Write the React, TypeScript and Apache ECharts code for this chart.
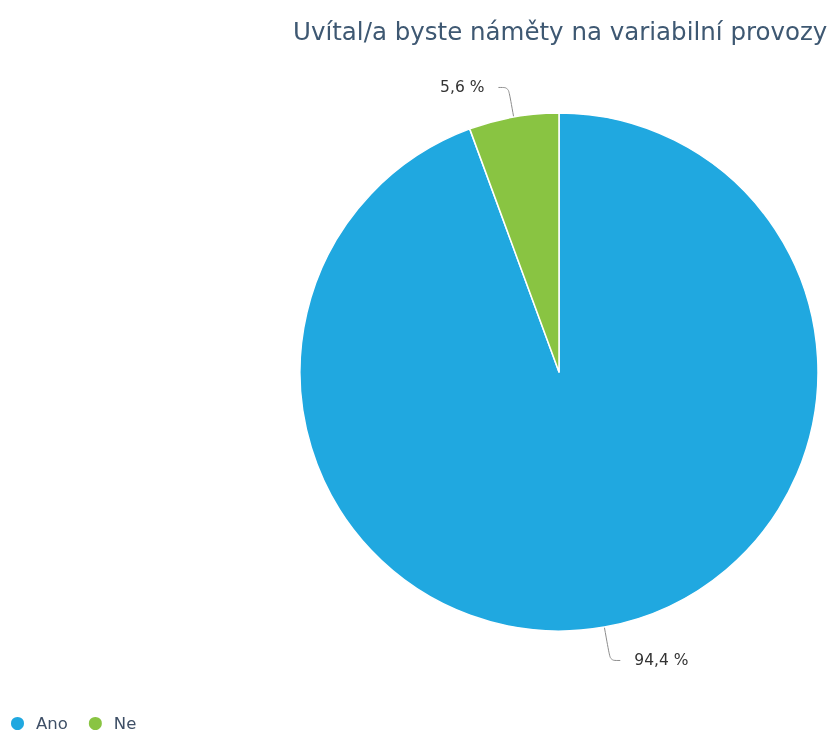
import React, { useEffect, useRef } from "react";
import * as echarts from "echarts";

const titleText = "Uvítal/a byste náměty na variabilní provozy";
const categories = ["Ano", "Ne"];
const values = [94.4, 5.6];
const colors = ["#20a8e0", "#89c442"];
// leader-line first segment per slice
const leaderLengths = [34, 30];

const fmt = (v: number) => v.toFixed(1).replace(".", ",") + " %";

export default function App() {
  const ref = useRef<HTMLDivElement>(null);

  useEffect(() => {
    if (!ref.current) return;
    const chart = echarts.init(ref.current, null, { renderer: "svg" });
    chart.setOption({
      animation: false,
      title: {
        text: titleText,
        left: 288,
        top: 14,
        textStyle: {
          fontFamily: "DejaVu Sans",
          fontSize: 24.5,
          fontWeight: "normal",
          color: "#3e5872",
        },
      },
      legend: {
        left: 4,
        top: 710,
        icon: "circle",
        itemWidth: 15,
        itemHeight: 15,
        itemGap: 19,
        textStyle: {
          fontFamily: "DejaVu Sans",
          fontSize: 16.5,
          color: "#3e4f66",
          padding: [0, 0, 0, 6],
        },
        data: categories,
      },
      series: [
        {
          type: "pie",
          center: [559, 372],
          radius: 259,
          startAngle: 90,
          clockwise: true,
          color: colors,
          itemStyle: { borderColor: "#fff", borderWidth: 1.5 },
          label: {
            formatter: (p: any) => fmt(p.value),
            fontFamily: "DejaVu Sans",
            fontSize: 15.5,
            color: "#333",
            distanceToLabelLine: 14,
          },
          labelLine: {
            length: 30,
            length2: 10,
            smooth: true,
            lineStyle: { color: "#8c8c8c", width: 1 },
          },
          emphasis: { disabled: true },
          data: categories.map((name, i) => ({
            name,
            value: values[i],
            labelLine: { length: leaderLengths[i] },
          })),
        },
      ],
    });
    return () => chart.dispose();
  }, []);

  return (
    <div
      ref={ref}
      style={{ position: "fixed", left: 0, top: 0, width: 832, height: 733 }}
    />
  );
}
